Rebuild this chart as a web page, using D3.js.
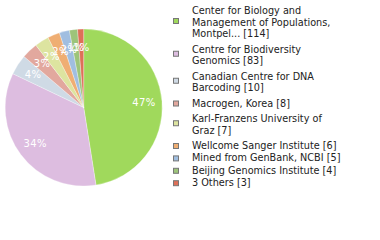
<!DOCTYPE html>
<html>
<head>
<meta charset="utf-8">
<script src="https://cdn.jsdelivr.net/npm/d3@7"></script>
<style>
    body { margin: 0; background: #fff; }
    svg { display: block; }
</style>
</head>
<body>
<div id="wrapper"></div>
<script>
const labels = [
    "Center for Biology and\nManagement of Populations,\nMontpel...",
    "Centre for Biodiversity\nGenomics",
    "Canadian Centre for DNA\nBarcoding",
    "Macrogen, Korea",
    "Karl-Franzens University of\nGraz",
    "Wellcome Sanger Institute",
    "Mined from GenBank, NCBI",
    "Beijing Genomics Institute",
    "3 Others",
];
const counts = [114, 83, 10, 8, 7, 6, 5, 4, 3];
const colors = ["#a0d95c", "#ddbde0", "#cfdae5", "#e2a89e", "#dde4a0", "#efae73", "#a0bee0", "#9dc47a", "#de7058"];

const dimensions = {
    width: 380,
    height: 240,
    pie: { cx: 83.7, cy: 107.5, r: 78.5 },
    legend: { x: 173.5, textX: 192, top: 14 },
}

const data = labels.map((d, i) => ({ label: d, count: counts[i], color: colors[i] }));
const total = d3.sum(counts);

const wrapper = d3.select("#wrapper")
    .append("svg")
    .attr("width", dimensions.width)
    .attr("height", dimensions.height);

const pieGroup = wrapper.append("g")
    .attr("transform", `translate(${dimensions.pie.cx},${dimensions.pie.cy})`);

const pie = d3.pie()
    .sort(null)
    .value(d => d.count);

const arc = d3.arc()
    .innerRadius(0)
    .outerRadius(dimensions.pie.r);

const labelArc = d3.arc()
    .innerRadius(dimensions.pie.r * 0.77)
    .outerRadius(dimensions.pie.r * 0.77);

const arcs = pie(data);

pieGroup.selectAll("path")
    .data(arcs)
    .enter()
    .append("path")
    .attr("d", arc)
    .attr("fill", d => d.data.color)
    .attr("stroke", "#fff")
    .attr("stroke-width", 0.3);

pieGroup.selectAll(".pct")
    .data(arcs)
    .enter()
    .append("text")
    .attr("class", "pct")
    .attr("transform", d => `translate(${labelArc.centroid(d)})`)
    .attr("text-anchor", "middle")
    .attr("dy", "0.36em")
    .attr("font-family", "DejaVu Sans")
    .attr("font-size", 10)
    .attr("letter-spacing", 0.4)
    .attr("fill", "#fff")
    .text(d => Math.floor(d.data.count / total * 100) + "%");

// legend: baselines stacked, looser spacing around wrapped items
const legend = wrapper.append("g");
let baseline = dimensions.legend.top;
let prevMulti = false;
data.forEach((d, i) => {
    const lines = (d.label + " [" + d.count + "]").split("\n");
    const multi = lines.length > 1;
    if (i > 0) baseline += (multi || prevMulti) ? 15.5 : 12.4;
    const first = baseline;
    const item = legend.append("g");
    lines.forEach((line, j) => {
        if (j > 0) baseline += 11.5;
        item.append("text")
            .attr("x", dimensions.legend.textX)
            .attr("y", baseline)
            .attr("font-family", "DejaVu Sans")
            .attr("font-size", 9.7)
            .attr("fill", "#222")
            .text(line);
    });
    const mid = (first + baseline) / 2 - (multi ? 4.5 : 3);
    item.append("rect")
        .attr("x", dimensions.legend.x)
        .attr("y", mid - 2.5)
        .attr("width", 5)
        .attr("height", 5)
        .attr("fill", d.color)
        .attr("stroke", "#777")
        .attr("stroke-width", 1);
    prevMulti = multi;
});
</script>
</body>
</html>
